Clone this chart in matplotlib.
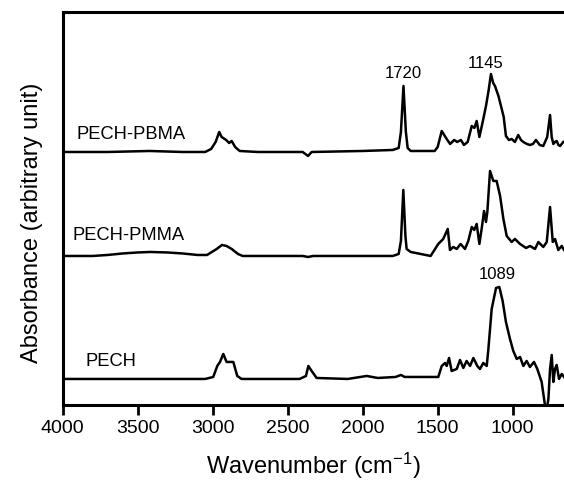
import matplotlib
matplotlib.use("Agg")
import matplotlib.pyplot as plt

plt.rcParams['font.family'] = ['Liberation Sans', 'DejaVu Sans']
plt.rcParams['mathtext.default'] = 'regular'

# spectra: wavenumber (cm-1), absorbance above own baseline (a.u.)
pech_wn = [4000, 3500, 3050, 2996, 2969, 2951, 2929, 2907, 2884, 2862, 2836, 2807,
           2420, 2378, 2362, 2340, 2307, 2100, 1973, 1900, 1780, 1745, 1720, 1496,
           1473, 1451, 1440, 1424, 1407, 1373, 1351, 1329, 1307, 1284, 1262, 1236,
           1218, 1196, 1173, 1162, 1140, 1111, 1089, 1067, 1045, 1018, 996, 973,
           951, 929, 907, 885, 858, 836, 807, 785, 775, 762, 751, 740, 729, 718,
           707, 691, 673, 658]
pech_abs = [0.0, 0.0, 0.0, 0.02, 0.13, 0.17, 0.25, 0.17, 0.17, 0.17, 0.03, 0.0,
            0.0, 0.03, 0.13, 0.08, 0.01, 0.0, 0.03, 0.01, 0.02, 0.04, 0.02, 0.02,
            0.13, 0.16, 0.13, 0.21, 0.08, 0.10, 0.19, 0.11, 0.18, 0.13, 0.21, 0.13,
            0.10, 0.16, 0.13, 0.30, 0.70, 0.91, 0.92, 0.78, 0.57, 0.40, 0.28, 0.20,
            0.22, 0.13, 0.18, 0.12, 0.17, 0.10, -0.03, -0.26, -0.32, -0.20, 0.10, 0.24,
            -0.03, 0.10, 0.14, 0.0, 0.05, 0.02]

pmma_wn = [4000, 3800, 3700, 3600, 3500, 3417, 3300, 3200, 3100, 3037, 2973, 2938,
           2907, 2873, 2831, 2800, 2400, 2364, 2330, 1800, 1760, 1745, 1729, 1715,
           1707, 1680, 1613, 1547, 1496, 1463, 1433, 1418, 1396, 1373, 1347, 1318,
           1296, 1273, 1256, 1240, 1222, 1207, 1191, 1178, 1169, 1151, 1129, 1107,
           1084, 1062, 1040, 1007, 985, 951, 911, 885, 851, 829, 796, 773, 751, 733,
           718, 696, 673, 658]
pmma_abs = [0.0, 0.0, 0.01, 0.025, 0.035, 0.04, 0.035, 0.025, 0.01, 0.01, 0.07, 0.11,
            0.10, 0.07, 0.02, 0.0, 0.0, -0.01, 0.0, 0.0, 0.02, 0.15, 0.66, 0.2,
            0.07, 0.04, 0.02, 0.0, 0.12, 0.17, 0.27, 0.06, 0.09, 0.07, 0.12, 0.07,
            0.15, 0.29, 0.26, 0.32, 0.12, 0.27, 0.45, 0.34, 0.44, 0.85, 0.75, 0.75,
            0.60, 0.37, 0.20, 0.14, 0.17, 0.12, 0.08, 0.10, 0.07, 0.14, 0.09, 0.14,
            0.49, 0.14, 0.17, 0.06, 0.10, 0.06]

pbma_wn = [4000, 3700, 3420, 3200, 3050, 3010, 2980, 2956, 2940, 2910, 2890, 2873,
           2850, 2820, 2700, 2400, 2364, 2340, 2000, 1800, 1760, 1745, 1728, 1712,
           1700, 1680, 1520, 1500, 1473, 1440, 1417, 1390, 1370, 1345, 1325, 1300,
           1273, 1255, 1240, 1222, 1200, 1178, 1160, 1145, 1130, 1118, 1095, 1073,
           1060, 1045, 1025, 1007, 985, 963, 945, 929, 905, 885, 865, 845, 820, 796,
           770, 751, 740, 729, 718, 707, 695, 684, 663]
pbma_abs = [0.0, 0.0, 0.01, 0.0, 0.0, 0.03, 0.10, 0.20, 0.15, 0.12, 0.09, 0.11,
            0.05, 0.01, 0.0, 0.0, -0.04, 0.0, 0.01, 0.02, 0.04, 0.2, 0.66, 0.2,
            0.04, 0.01, 0.01, 0.05, 0.21, 0.13, 0.08, 0.12, 0.10, 0.12, 0.07, 0.10,
            0.26, 0.24, 0.31, 0.15, 0.30, 0.46, 0.62, 0.78, 0.69, 0.66, 0.56, 0.43,
            0.35, 0.16, 0.12, 0.13, 0.10, 0.17, 0.12, 0.10, 0.08, 0.07, 0.08, 0.12,
            0.07, 0.06, 0.15, 0.37, 0.15, 0.08, 0.10, 0.11, 0.07, 0.06, 0.10]

names = ['PECH', 'PECH-PMMA', 'PECH-PBMA']
offsets = [0.26, 1.49, 2.53]
name_pos = [(3850, 0.44), (3935, 1.70), (3910, 2.71)]
peak_labels = ['1089', '1720', '1145']
peak_pos = [(1103, 1.31), (1729, 3.32), (1180, 3.42)]

fig = plt.figure(figsize=(5.64, 4.81), dpi=100)
ax = fig.add_axes([0.111, 0.156, 0.889, 0.817])

spectra = [(pech_wn, pech_abs), (pmma_wn, pmma_abs), (pbma_wn, pbma_abs)]
for (wn, a), off, name, (tx, ty) in zip(spectra, offsets, names, name_pos):
    ax.plot(wn, [v + off for v in a], color='black', lw=1.8)
    ax.text(tx, ty, name, fontsize=13.2, ha='left', va='center')

for lab, (px, py) in zip(peak_labels, peak_pos):
    ax.text(px, py, lab, fontsize=12, ha='center', va='center')

ax.set_xlim(4000, 658)
ax.set_ylim(0, 3.93)
ax.set_xticks([4000, 3500, 3000, 2500, 2000, 1500, 1000])
ax.set_yticks([])
ax.tick_params(axis='x', direction='out', length=7, width=2, labelsize=14, pad=3)
for s in ['left', 'bottom', 'top']:
    ax.spines[s].set_linewidth(2.2)
ax.spines['right'].set_visible(False)

ax.set_xlabel('Wavenumber (cm$^{-1}$)', fontsize=17, labelpad=10)
fig.text(0.056, 0.536, 'Absorbance (arbitrary unit)', fontsize=17,
         rotation=90, ha='center', va='center')

fig.savefig('out.png', dpi=100)
